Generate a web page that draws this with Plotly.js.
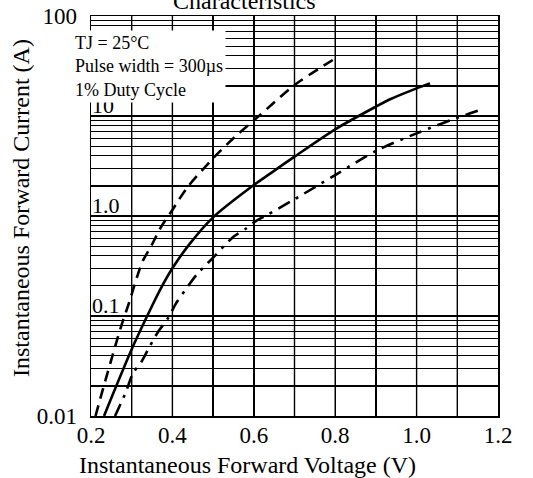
<!DOCTYPE html>
<html>
<head>
<meta charset="utf-8">
<script src="https://cdn.plot.ly/plotly-3.0.1.min.js"></script>
<style>html,body{margin:0;padding:0;background:#fff;}</style>
</head>
<body>
<div id="chart" style="width:533px;height:478px;"></div>
<script>
// Forward voltage (V) / current (A)
const dashedV = [0.211, 0.230, 0.258, 0.275, 0.293, 0.316, 0.328, 0.349, 0.370, 0.400, 0.435, 0.500, 0.554, 0.615, 0.700, 0.794];
const dashedI = [0.01, 0.019, 0.0475, 0.081, 0.134, 0.267, 0.36, 0.51, 0.75, 1.15, 1.89, 3.78, 6.2, 10.2, 20.4, 36.3];

const solidV = [0.232, 0.301, 0.338, 0.372, 0.400, 0.443, 0.500, 0.600, 0.641, 0.700, 0.800, 0.900, 0.935, 1.000, 1.033];
const solidI = [0.01, 0.0475, 0.1, 0.19, 0.30, 0.53, 0.97, 2.04, 2.67, 3.92, 7.36, 12.4, 14.7, 18.9, 21.2];

const dashdotV = [0.259, 0.285, 0.303, 0.324, 0.344, 0.365, 0.389, 0.410, 0.435, 0.459, 0.500, 0.550, 0.581, 0.603, 0.628, 0.700, 0.800, 0.900, 1.000, 1.100, 1.157];
const dashdotI = [0.01, 0.0171, 0.0267, 0.0349, 0.0494, 0.0697, 0.0948, 0.136, 0.19, 0.257, 0.383, 0.62, 0.75, 0.88, 1.0, 1.47, 2.57, 4.47, 6.71, 9.6, 11.5];

// axis ticks
const xTickVals = [0.2, 0.3, 0.4, 0.5, 0.6, 0.7, 0.8, 0.9, 1.0, 1.1, 1.2];
const xTickText = ["0.2", "", "0.4", "", "0.6", "", "0.8", "", "1.0", "", "1.2"];
const yGridVals = [0.01,0.02,0.03,0.04,0.05,0.06,0.07,0.08,0.09,
                   0.1,0.2,0.3,0.4,0.5,0.6,0.7,0.8,0.9,
                   1,2,3,4,5,6,7,8,9,
                   10,20,30,40,50,60,70,80,90,100];
const yOuterVals = [0.01, 100];
const yOuterText = ["0.01", "100"];
const yInnerVals = [0.1, 1, 10];
const yInnerText = ["0.1", "1.0", "10"];

const conditionText = ["TJ = 25°C", "Pulse width = 300µs", "1% Duty Cycle"];
const chartTitle = "Characteristics";
const xTitle = "Instantaneous Forward Voltage (V)";
const yTitle = "Instantaneous Forward Current (A)";

const FONT = "Liberation Serif, Times New Roman, serif";

const traces = [
  {x: dashedV, y: dashedI, mode: "lines", line: {color: "#000", width: 2.6, dash: "11px,7px", shape: "spline", smoothing: 0.8}, hoverinfo: "skip"},
  {x: solidV, y: solidI, mode: "lines", line: {color: "#000", width: 2.6, shape: "spline", smoothing: 0.8}, hoverinfo: "skip"},
  {x: dashdotV, y: dashdotI, mode: "lines", line: {color: "#000", width: 2.6, dash: "13px,7px,3px,7px", shape: "spline", smoothing: 0.8}, hoverinfo: "skip"}
];

// labels drawn inside the plot at 0.1, 1.0, 10 (placed on the y scale)
const innerLabels = yInnerVals.map((v, i) => ({
  text: yInnerText[i], xref: "paper", yref: "y", x: 0, y: Math.log10(v),
  xanchor: "left", yanchor: "bottom", showarrow: false, borderpad: 0, yshift: -3,
  font: {family: FONT, size: 22, color: "#000"}
}));

// vertical grid lines at every x tick, positioned on the x scale
const xGrid = xTickVals.slice(1, -1).map(v => ({
  type: "line", xref: "x", yref: "paper", x0: v, x1: v, y0: 0, y1: 1,
  layer: "above", line: {color: "#000", width: 1.4}
}));

const layout = {
  width: 533, height: 478,
  margin: {l: 91, r: 35, t: 16, b: 62, pad: 0},
  paper_bgcolor: "#fff", plot_bgcolor: "#fff",
  showlegend: false,
  font: {family: FONT, color: "#000", size: 22},
  xaxis: {
    type: "linear", range: [0.2, 1.2],
    tickmode: "array", tickvals: xTickVals, ticktext: xTickText,
    showgrid: true, gridcolor: "#000", gridwidth: 1.4,
    showline: true, mirror: true, linecolor: "#000", linewidth: 1.5,
    zeroline: false, ticks: "", ticklabelstandoff: -2,
    tickfont: {family: FONT, size: 23, color: "#000"}
  },
  yaxis: {
    type: "log", range: [-2, 2],
    tickmode: "array", tickvals: yGridVals,
    ticktext: yGridVals.map(v => { const i = yOuterVals.indexOf(v); return i >= 0 ? yOuterText[i] : ""; }),
    showgrid: true, gridcolor: "#000", gridwidth: 1.2,
    showline: true, mirror: true, linecolor: "#000", linewidth: 1.5,
    zeroline: false, ticks: "", ticklabelstandoff: 8,
    tickfont: {family: FONT, size: 23, color: "#000"}
  },
  shapes: xGrid,
  annotations: innerLabels.concat([
    {text: conditionText.join("<br>"), xref: "paper", yref: "paper",
     x: -0.047, y: 0.965, xanchor: "left", yanchor: "top", align: "left",
     showarrow: false, bgcolor: "#fff", borderpad: 2,
     font: {family: FONT, size: 18, color: "#000"}},
    {text: chartTitle, xref: "paper", yref: "paper", x: 0.377, y: 1.0375,
     xanchor: "center", yanchor: "middle", showarrow: false,
     font: {family: FONT, size: 24, color: "#000"}},
    {text: xTitle, xref: "paper", yref: "paper", x: (247 - 91) / 407, y: -0.1225,
     xanchor: "center", yanchor: "middle", showarrow: false,
     font: {family: FONT, size: 24, color: "#000"}},
    {text: yTitle, xref: "paper", yref: "paper", x: (21 - 91) / 407, y: 0.52,
     xanchor: "center", yanchor: "middle", textangle: -90, showarrow: false,
     font: {family: FONT, size: 24, color: "#000"}}
  ])
};

Plotly.newPlot("chart", traces, layout, {staticPlot: true, displayModeBar: false});
</script>
</body>
</html>
